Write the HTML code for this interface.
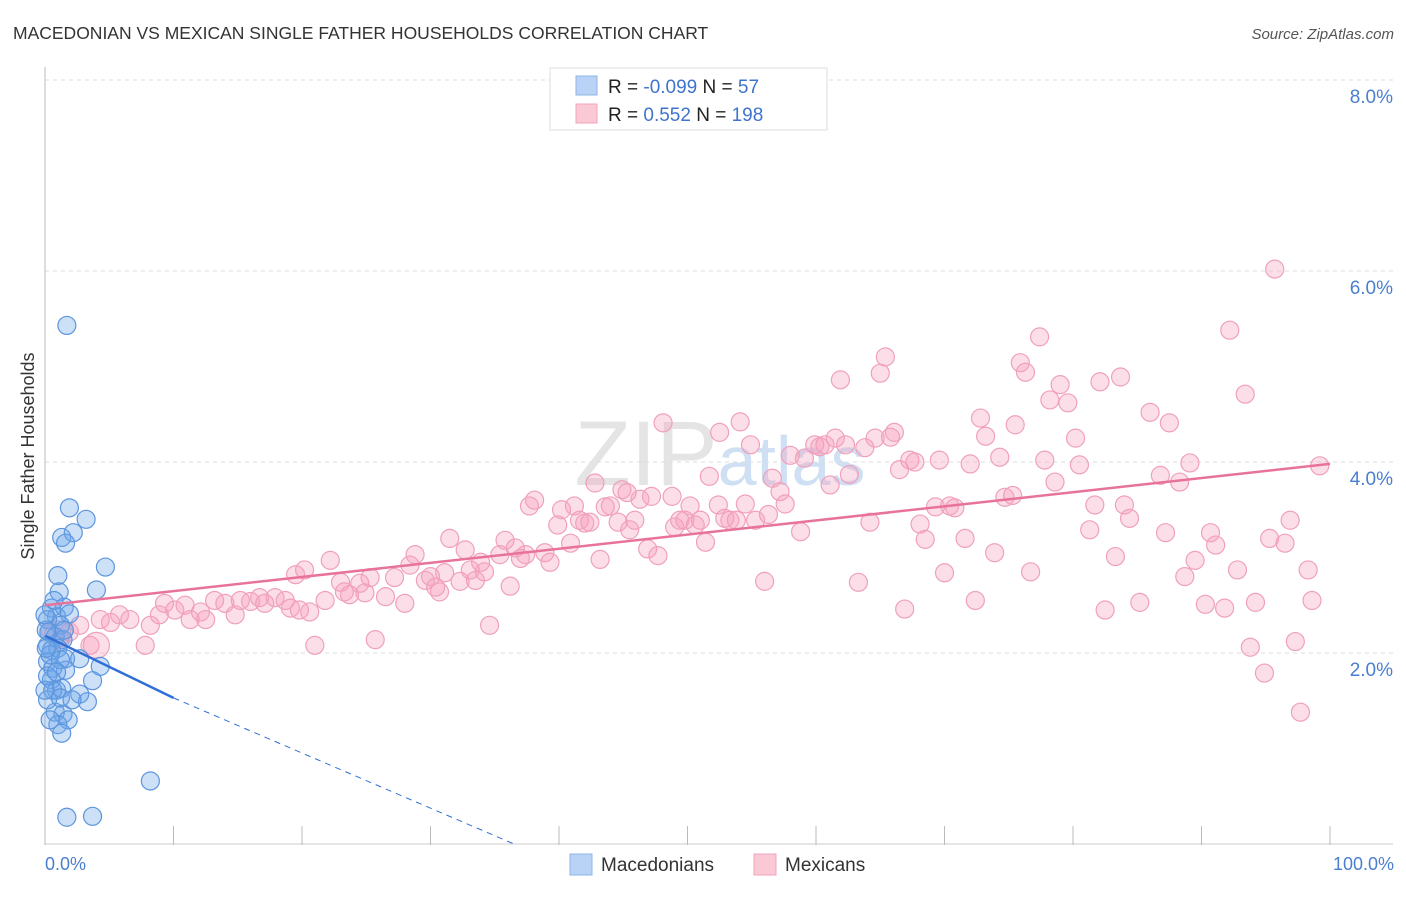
<!DOCTYPE html>
<html><head><meta charset="utf-8"><style>
body{margin:0;background:#fff;font-family:"Liberation Sans",sans-serif}
svg text{font-family:"Liberation Sans",sans-serif}
</style></head><body>
<svg id="chart" width="1406" height="892">
<text x="13" y="39" font-size="17.5" fill="#333">MACEDONIAN VS MEXICAN SINGLE FATHER HOUSEHOLDS CORRELATION CHART</text>
<text x="1394" y="39" font-size="15" fill="#555" font-style="italic" text-anchor="end">Source: ZipAtlas.com</text>
<text x="720" y="485" font-size="92" fill="#e4e4e4" text-anchor="middle" font-family="Liberation Serif">ZIP<tspan fill="#cfe0f4" font-family="Liberation Sans" font-size="70">atlas</tspan></text>
<g id="grid"></g><g id="axes"></g><g id="pts"></g><g id="lines"></g>
<text transform="translate(34,456) rotate(-90)" font-size="18" fill="#333" text-anchor="middle">Single Father Households</text>
<text x="45" y="870" font-size="18" fill="#4a7fd0">0.0%</text>
<text x="1394" y="870" font-size="18" fill="#4a7fd0" text-anchor="end">100.0%</text>
<g>
<rect x="550" y="68" width="277" height="62" fill="#fff" stroke="#ddd"/>
<rect x="576" y="76" width="21" height="19" fill="#b8d3f5" stroke="#8fb6e8"/>
<rect x="576" y="104" width="21" height="19" fill="#fbc8d6" stroke="#f2a5bd"/>
<text x="608" y="93" font-size="19" fill="#222">R = <tspan fill="#3f74cc">-0.099</tspan>   N = <tspan fill="#3f74cc">  57</tspan></text>
<text x="608" y="121" font-size="19" fill="#222">R = <tspan fill="#3f74cc">  0.552</tspan>   N = <tspan fill="#3f74cc">198</tspan></text>
</g>
<g>
<rect x="570" y="854" width="22" height="21" fill="#b8d3f5" stroke="#8fb6e8"/>
<text x="601" y="871" font-size="19" fill="#333">Macedonians</text>
<rect x="754" y="854" width="22" height="21" fill="#fbc8d6" stroke="#f2a5bd"/>
<text x="785" y="871" font-size="19" fill="#333">Mexicans</text>
</g>
</svg>
<script>
const yTicks=[2,4,6,8];
const yTickLabels=["2.0%","4.0%","6.0%","8.0%"];
const xTicks=[0,10,20,30,40,50,60,70,80,90,100];
const macX=[1.7,1.9,3.2,1.3,2.2,1.6,4.7,1.0,4.0,1.1,0.5,1.5,0.9,1.9,0.2,1.2,0.3,0.8,1.4,0.2,0.5,1.0,1.6,2.7,0.2,0.6,1.6,4.3,0.5,3.7,0.9,1.3,2.7,3.3,0.6,0.8,1.4,1.8,1.0,1.3,0.2,0.4,1.2,8.2,1.7,3.7,0.4,0.1,0.7,1.2,2.1,0.0,0.2,0.9,1.5,0.0,0.1];
const macY=[5.43,3.52,3.40,3.21,3.26,3.15,2.90,2.81,2.66,2.64,2.47,2.48,2.38,2.41,2.35,2.29,2.22,2.17,2.14,2.08,2.03,2.05,1.94,1.94,1.91,1.84,1.82,1.86,1.72,1.71,1.61,1.63,1.57,1.49,1.61,1.38,1.36,1.30,1.25,1.16,1.51,1.30,1.53,0.66,0.28,0.29,1.98,2.24,2.55,1.93,1.51,1.61,1.76,1.80,2.24,2.40,2.05];
const mexX=[0.4,1.2,1.9,2.7,3.5,4.3,5.1,5.8,6.6,7.8,8.2,8.9,9.3,10.1,10.9,11.3,12.1,12.5,13.2,14.0,14.8,15.2,16.0,16.7,17.1,17.9,18.7,19.1,19.8,20.6,19.5,20.2,21.0,21.8,22.2,23.0,23.3,23.7,24.5,24.9,25.3,25.7,26.5,27.2,28.0,28.4,28.8,29.6,30.0,30.4,30.7,31.1,31.5,32.3,32.7,33.1,33.5,33.9,34.2,34.6,35.4,35.8,36.2,36.6,37.0,37.4,37.7,38.1,38.9,39.3,39.9,40.2,40.9,41.2,41.6,42.0,42.4,42.8,43.2,43.6,44.0,44.6,44.9,45.3,45.5,45.9,46.3,46.9,47.2,47.7,48.1,48.8,49.0,49.4,49.8,50.2,50.6,51.0,51.4,51.7,52.4,52.5,52.9,53.3,53.8,54.1,54.5,54.9,55.3,56.0,56.3,56.6,57.2,57.6,58.0,58.8,59.1,59.9,60.3,60.7,61.1,61.5,61.9,62.3,62.6,63.3,63.8,64.2,64.6,65.0,65.4,65.8,66.1,66.5,66.9,67.3,67.7,68.1,68.5,69.3,69.6,70.0,70.4,70.8,71.6,72.0,72.4,72.8,73.2,73.9,74.3,74.7,75.3,75.5,75.9,76.3,76.7,77.4,77.8,78.2,78.6,79.0,79.6,80.2,80.5,81.3,81.7,82.1,82.5,83.3,83.7,84.0,84.4,85.2,86.0,86.8,87.2,87.5,88.3,88.7,89.1,89.5,90.3,90.7,91.1,91.8,92.2,92.8,93.4,93.8,94.2,94.9,95.3,95.7,96.5,96.9,97.3,97.7,98.3,98.6,99.2,4.0,1.0];
const mexY=[2.24,2.14,2.22,2.29,2.08,2.35,2.32,2.40,2.35,2.08,2.29,2.40,2.52,2.45,2.50,2.35,2.43,2.35,2.55,2.52,2.40,2.55,2.54,2.58,2.52,2.58,2.55,2.47,2.45,2.43,2.82,2.87,2.08,2.55,2.97,2.74,2.64,2.61,2.73,2.63,2.79,2.14,2.59,2.79,2.52,2.92,3.03,2.76,2.80,2.69,2.64,2.84,3.20,2.75,3.08,2.87,2.76,2.95,2.85,2.29,3.03,3.18,2.70,3.10,2.99,3.03,3.54,3.60,3.05,2.95,3.34,3.50,3.15,3.54,3.39,3.36,3.37,3.78,2.98,3.53,3.54,3.37,3.71,3.68,3.29,3.39,3.61,3.09,3.64,3.02,4.41,3.64,3.32,3.39,3.39,3.54,3.34,3.39,3.16,3.85,3.55,4.31,3.41,3.39,3.39,4.42,3.56,4.18,3.39,2.75,3.45,3.83,3.69,3.56,4.07,3.27,4.04,4.18,4.16,4.18,3.76,4.25,4.86,4.18,3.87,2.74,4.15,3.37,4.25,4.93,5.10,4.26,4.31,3.92,2.46,4.02,4.00,3.35,3.19,3.53,4.02,2.84,3.54,3.52,3.20,3.98,2.55,4.46,4.27,3.05,4.05,3.63,3.65,4.39,5.04,4.94,2.85,5.31,4.02,4.65,3.79,4.81,4.62,4.25,3.97,3.29,3.55,4.84,2.45,3.01,4.89,3.55,3.41,2.53,4.52,3.86,3.26,4.41,3.79,2.80,3.99,2.97,2.51,3.26,3.13,2.47,5.38,2.87,4.71,2.06,2.53,1.79,3.20,6.02,3.15,3.39,2.12,1.38,2.87,2.55,3.96,2.08,2.20];
const mexTrend=[[0,2.50],[100,3.98]];
const macTrend=[[0,2.18],[10,1.53],[36.5,0]];
const X=v=>45+v*12.85, Y=v=>844-v*95.5;
const NS="http://www.w3.org/2000/svg";
function mk(p,t,a){const e=document.createElementNS(NS,t);for(const k in a)e.setAttribute(k,a[k]);p.appendChild(e);return e;}
const grid=document.getElementById('grid'),axes=document.getElementById('axes'),pts=document.getElementById('pts'),lines=document.getElementById('lines');
yTicks.forEach((t,i)=>{
 const l=mk(grid,'line',{x1:45,x2:1393,y1:Y(t),y2:Y(t),stroke:'#ddd','stroke-dasharray':'4,4'});
 
 
 const tx=mk(grid,'text',{x:1393,y:Y(t)+23,'font-size':19,fill:'#4a7fd0','text-anchor':'end'});
 tx.textContent=yTickLabels[i];
 
 
});
const ya=mk(axes,'line',{x1:45,x2:45,y1:67,y2:845,stroke:'#bbb'});


const xa=mk(axes,'line',{x1:45,x2:1393,y1:844,y2:844,stroke:'#ccc'});


xTicks.forEach(t=>{
 const l=mk(axes,'line',{x1:X(t),x2:X(t),y1:826,y2:845,stroke:'#bbb'});
 
 
});
mexX.forEach((x,i)=>{
 const big=i>=mexX.length-2;
 const c=mk(pts,'circle',{cx:X(x),cy:Y(mexY[i]),r:big?13:9,fill:'rgba(245,160,188,0.35)',stroke:'#f0a0bc','stroke-width':1.2});
 
 
});
macX.forEach((x,i)=>{
 const c=mk(pts,'circle',{cx:X(x),cy:Y(macY[i]),r:9,fill:'rgba(110,165,235,0.35)',stroke:'#5d95dd','stroke-width':1.2});
 
 
});
const pl=mk(lines,'line',{x1:X(mexTrend[0][0]),y1:Y(mexTrend[0][1]),x2:X(mexTrend[1][0]),y2:Y(mexTrend[1][1]),stroke:'#e8739a','stroke-width':2.5});


const bl=mk(lines,'line',{x1:X(macTrend[0][0]),y1:Y(macTrend[0][1]),x2:X(macTrend[1][0]),y2:Y(macTrend[1][1]),stroke:'#2f6fd6','stroke-width':2.5});


const bd=mk(lines,'line',{x1:X(macTrend[1][0]),y1:Y(macTrend[1][1]),x2:X(macTrend[2][0]),y2:Y(macTrend[2][1]),stroke:'#2f6fd6','stroke-width':1,'stroke-dasharray':'6,5'});


</script>
</body></html>
